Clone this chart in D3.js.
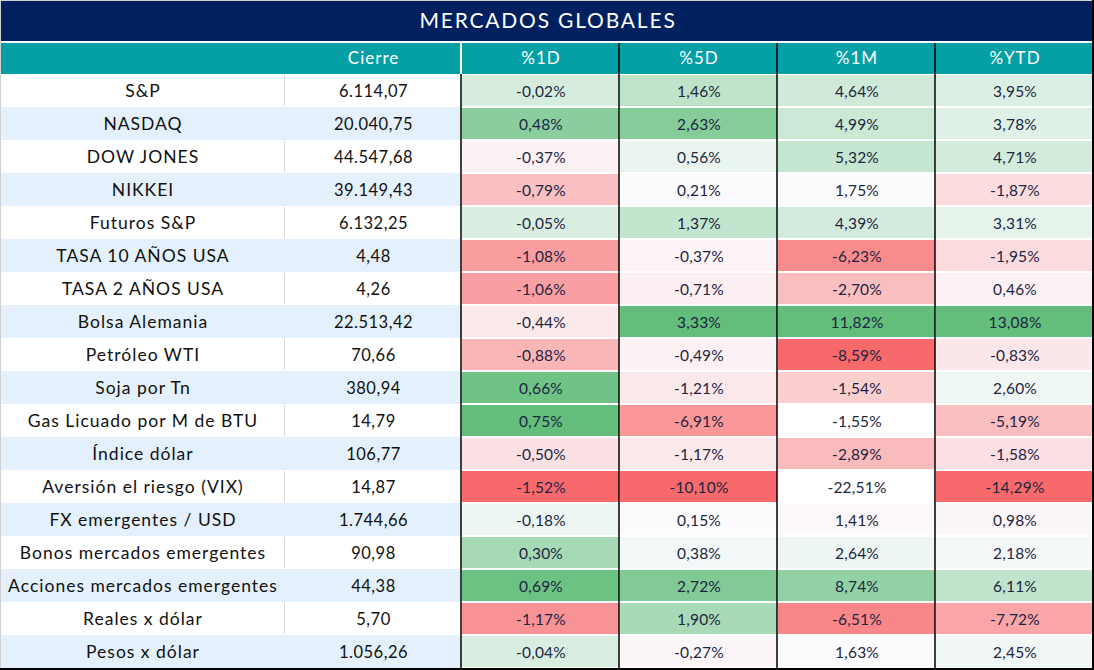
<!DOCTYPE html>
<html><head><meta charset="utf-8">
<script src="https://cdn.jsdelivr.net/npm/d3@7"></script>
<style>
html,body{margin:0;padding:0;background:#fff;}
svg{display:block;font-family:Lato,"Noto Sans",sans-serif;}
</style></head>
<body><svg id="chart" width="1094" height="670"></svg>
<script>
const title = "MERCADOS GLOBALES";
const headers = ["", "Cierre", "%1D", "%5D", "%1M", "%YTD"];
const names = ["S&P","NASDAQ","DOW JONES","NIKKEI","Futuros S&P","TASA 10 AÑOS USA","TASA 2 AÑOS USA","Bolsa Alemania","Petróleo WTI","Soja por Tn","Gas Licuado por M de BTU","Índice dólar","Aversión el riesgo (VIX)","FX emergentes / USD","Bonos mercados emergentes","Acciones mercados emergentes","Reales x dólar","Pesos x dólar"];
const cierre = [6114.07,20040.75,44547.68,39149.43,6132.25,4.48,4.26,22513.42,70.66,380.94,14.79,106.77,14.87,1744.66,90.98,44.38,5.70,1056.26];
const pct1D = [-0.02,0.48,-0.37,-0.79,-0.05,-1.08,-1.06,-0.44,-0.88,0.66,0.75,-0.50,-1.52,-0.18,0.30,0.69,-1.17,-0.04];
const pct5D = [1.46,2.63,0.56,0.21,1.37,-0.37,-0.71,3.33,-0.49,-1.21,-6.91,-1.17,-10.10,0.15,0.38,2.72,1.90,-0.27];
const pct1M = [4.64,4.99,5.32,1.75,4.39,-6.23,-2.70,11.82,-8.59,-1.54,-1.55,-2.89,-22.51,1.41,2.64,8.74,-6.51,1.63];
const pctYTD = [3.95,3.78,4.71,-1.87,3.31,-1.95,0.46,13.08,-0.83,2.60,-5.19,-1.58,-14.29,0.98,2.18,6.11,-7.72,2.45];
// cells left without colour scale in the original: [row, column]
const unscaled = [[12,"%1M"],[10,"%1M"]];

const pctCols = [
  {key:"%1D", values:pct1D},
  {key:"%5D", values:pct5D},
  {key:"%1M", values:pct1M},
  {key:"%YTD", values:pctYTD}
];

const W = 1094, H = 670;
const svg = d3.select("#chart");
const loc = d3.formatLocale({decimal:",", thousands:".", grouping:[3], currency:["",""], minus:"-"});
const fNum = loc.format(",.2f");
const fPct = v => loc.format(".2f")(v) + "%";

const titleTop = 1, titleH = 40, headTop = 42, headH = 32, bodyTop = 74, bodyBottom = 668;
const colEdges = [0, 284, 461, 619, 777, 935, 1093];
const x = i => colEdges[i];
const cw = i => colEdges[i+1] - colEdges[i];

const y = d3.scaleBand().domain(d3.range(names.length)).range([bodyTop, bodyBottom]).padding(0);

// title band
svg.append("rect").attr("x",1).attr("y",titleTop).attr("width",1091).attr("height",titleH).attr("fill","#00205F");
svg.append("text").attr("x",548).attr("y",titleTop+titleH/2+2).attr("text-anchor","middle").attr("dominant-baseline","middle")
  .attr("fill","#fff").attr("font-size",21).attr("letter-spacing",1.8).text(title);

// header
svg.append("rect").attr("x",1).attr("y",headTop+1).attr("width",1091).attr("height",headH-1).attr("fill","#05A0A6");
headers.forEach((h,i)=>{
  if(!h) return;
  svg.append("text").attr("x",x(i)+cw(i)/2+1).attr("y",headTop+headH/2+2).attr("text-anchor","middle").attr("dominant-baseline","middle")
    .attr("fill","#fff").attr("font-size",17).attr("letter-spacing",1.0).text(h);
});
svg.append("rect").attr("x",x(2)-1).attr("y",headTop).attr("width",2).attr("height",headH).attr("fill","#fff");

// body rows
const rows = svg.append("g");
names.forEach((n,r)=>{
  const ry = y(r), rh = y.bandwidth();
  const blue = r % 2 === 1;
  rows.append("rect").attr("x",1).attr("y",ry).attr("width",x(2)-1).attr("height",rh).attr("fill", blue ? "#E4F1FC" : "#FFFFFF");
  if(!blue) rows.append("line").attr("x1",x(1)+0.5).attr("x2",x(1)+0.5).attr("y1",ry+1).attr("y2",ry+rh-1).attr("stroke","#D9D9D9").attr("stroke-width",1);
  rows.append("text").attr("x",x(0)+cw(0)/2+1).attr("y",ry+rh/2+2.5).attr("text-anchor","middle").attr("dominant-baseline","middle")
    .attr("fill","#111").attr("font-size",17.5).attr("letter-spacing",1.0).text(n);
  rows.append("text").attr("x",x(1)+cw(1)/2+1).attr("y",ry+rh/2+2.5).attr("text-anchor","middle").attr("dominant-baseline","middle")
    .attr("fill","#111").attr("font-size",16.5).attr("letter-spacing",0.5).text(fNum(cierre[r]));
});

// percentage columns with 3-colour scale (min red, median white, max green)
pctCols.forEach((c,ci)=>{
  const col = ci + 2;
  const isUn = r => unscaled.some(u => u[0]===r && u[1]===c.key);
  const scaled = c.values.filter((v,r)=>!isUn(r));
  const color = d3.scaleLinear()
    .domain([d3.min(scaled), d3.median(scaled), d3.max(scaled)])
    .range(["#F8696B","#FCFCFF","#63BE7B"])
    .interpolate(d3.interpolateRgb);
  const g = svg.append("g");
  g.selectAll("rect").data(c.values).join("rect")
    .attr("x", x(col)+1).attr("y",(d,r)=>y(r)+1).attr("width",cw(col)-1).attr("height",y.bandwidth()-2)
    .attr("fill",(d,r)=> isUn(r) ? "#FFFFFF" : color(d));
  g.selectAll("text").data(c.values).join("text")
    .attr("x", x(col)+cw(col)/2+1).attr("y",(d,r)=>y(r)+y.bandwidth()/2+2.5)
    .attr("text-anchor","middle").attr("dominant-baseline","middle")
    .attr("fill","#1C2541").attr("font-size",15.5).attr("letter-spacing",0.2).text(d=>fPct(d));
});

// grid lines
[3,4,5].forEach(i=>{
  svg.append("rect").attr("x",x(i)-0.75).attr("y",headTop+1).attr("width",1.5).attr("height",bodyBottom-headTop-1).attr("fill","#000");
});
svg.append("rect").attr("x",x(2)-0.75).attr("y",bodyTop).attr("width",1.5).attr("height",bodyBottom-bodyTop).attr("fill","#000");
// outer borders
svg.append("rect").attr("x",0).attr("y",0).attr("width",W).attr("height",1).attr("fill","#D0D0D0");
svg.append("rect").attr("x",0).attr("y",0).attr("width",1).attr("height",H).attr("fill","#D0D0D0");
svg.append("rect").attr("x",1092).attr("y",0).attr("width",2).attr("height",H).attr("fill","#000");
svg.append("rect").attr("x",0).attr("y",bodyBottom).attr("width",W).attr("height",2).attr("fill","#000");
</script></body></html>
